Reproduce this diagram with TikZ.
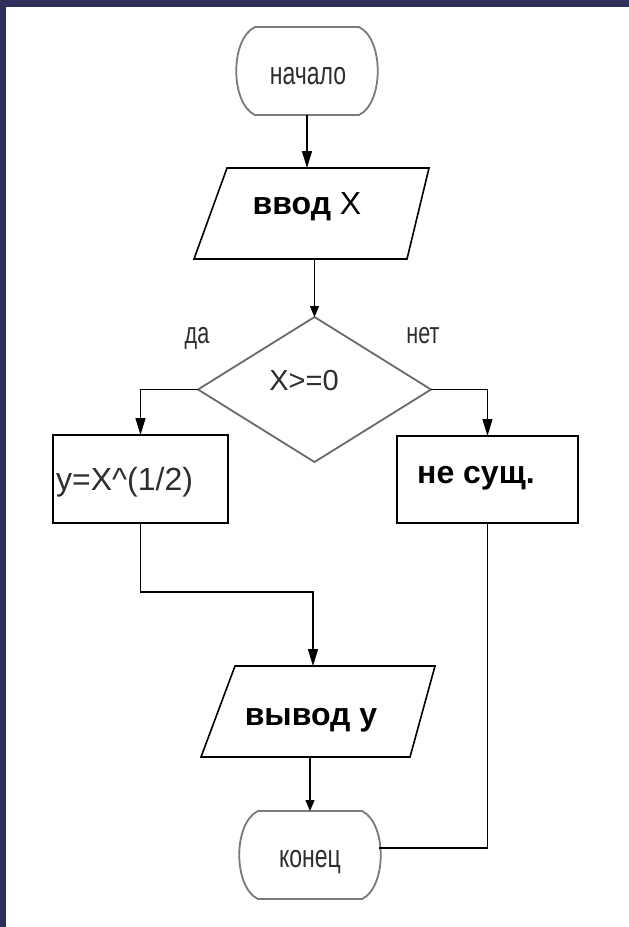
\documentclass[tikz,border=0pt]{standalone}
\usepackage{fontspec}
\setmainfont{Liberation Sans}
\newfontfamily\narrowf[FakeStretch=0.72]{Liberation Sans}
\usetikzlibrary{arrows.meta,calc}
\definecolor{navy}{HTML}{2B3158}
\definecolor{termgray}{HTML}{7A7A7A}
\definecolor{txtgray}{HTML}{2E2E2E}
\definecolor{diagray}{HTML}{6A6A6A}
\tikzset{
  frame/.style={draw=none, inner sep=0pt, outer sep=0pt},
  termline/.style={draw=termgray, line width=1.8pt},
  boxline/.style={draw=black, line width=1.6pt},
  dialine/.style={draw=diagray, line width=1.8pt},
  conn/.style={draw=black, line width=1.4pt},
  arr/.style={conn, -{Triangle[length=17pt,width=10pt]}},
  sarr/.style={conn, -{Triangle[length=11pt,width=9pt]}},
  termtxt/.style={inner sep=0pt, anchor=base, text=txtgray, font=\narrowf\fontsize{32}{36}\selectfont},
  yntxt/.style={inner sep=0pt, anchor=base, text=txtgray, font=\narrowf\fontsize{30}{34}\selectfont},
  boldtxt/.style={inner sep=0pt, anchor=base, text=black, font=\bfseries\fontsize{32}{36}\selectfont},
  plaintxt/.style={inner sep=0pt, anchor=base, text=txtgray},
}
\begin{document}
\begin{tikzpicture}[x=1pt,y=-1pt]
\fill[white] (0,0) rectangle (629,927);
\useasboundingbox (0,0) rectangle (629,927);
\fill[navy] (0,0) rectangle (629,7);
\fill[navy] (0,0) rectangle (6,927);

% start terminal
\node[frame, minimum width=104pt, minimum height=88pt] (start) at (307,71) {};
\draw[termline] (start.north west) -- (start.north east)
  .. controls +(25,12) and +(25,-12) .. (start.south east)
  -- (start.south west)
  .. controls +(-25,-12) and +(-25,12) .. (start.north west) -- cycle;
\node[termtxt] (starttxt) at (308,84) {начало};

% input
\node[frame, minimum width=235pt, minimum height=91pt] (in1) at (311.5,213.5) {};
\draw[boxline] ([xshift=33pt]in1.north west) -- (in1.north east)
  -- ([xshift=-22pt]in1.south east) -- (in1.south west) -- cycle;
\node[boldtxt] (in1txt) at (307,214) {ввод \mdseries X};

% decision
\node[frame, minimum width=233pt, minimum height=145pt] (dec) at (314.5,389.5) {};
\draw[dialine] (dec.north) -- (dec.east) -- (dec.south) -- (dec.west) -- cycle;
\node[plaintxt, font=\fontsize{29}{34}\selectfont] (dectxt) at (304,390) {X>=0};
\node[yntxt] (yes lbl) at (197,343) {да};
\node[yntxt] (no lbl) at (423,343) {нет};

% yes box
\node[frame, minimum width=175pt, minimum height=88pt] (yes) at (140.5,479) {};
\draw[boxline] (yes.north west) rectangle (yes.south east);
\node[plaintxt, anchor=base west, font=\fontsize{32}{38}\selectfont] (yestxt) at (56,490) {y=X\^{}(1/2)};

% no box
\node[frame, minimum width=181pt, minimum height=87pt] (no) at (487.5,479.5) {};
\draw[boxline] (no.north west) rectangle (no.south east);
\node[boldtxt, anchor=base west] (notxt) at (417,483) {не сущ.};

% output
\node[frame, minimum width=234pt, minimum height=91pt] (out) at (318,711.5) {};
\draw[boxline] ([xshift=34pt]out.north west) -- (out.north east)
  -- ([xshift=-25pt]out.south east) -- (out.south west) -- cycle;
\node[boldtxt] (outtxt) at (311,725) {вывод у};

% end terminal
\node[frame, minimum width=104pt, minimum height=88pt] (end) at (310,855) {};
\draw[termline] (end.north west) -- (end.north east)
  .. controls +(25,12) and +(25,-12) .. (end.south east)
  -- (end.south west)
  .. controls +(-25,-12) and +(-25,12) .. (end.north west) -- cycle;
\node[termtxt] (endtxt) at (310,867) {конец};

% connectors
\coordinate (outin) at (313,666);
\coordinate (endin) at (379,848);
\draw[arr] (start.south) -- (start.south |- in1.north);
\draw[sarr] (in1.south -| dec.north) -- (dec.north);
\draw[arr] (dec.west) -| (yes.north);
\draw[arr] (dec.east) -| (no.north);
\draw[arr] (yes.south) -- ++(0,69) -| (outin);
\draw[conn] (no.south) |- (endin);
\draw[sarr] (end.north |- out.south) -- (end.north);
\end{tikzpicture}
\end{document}
